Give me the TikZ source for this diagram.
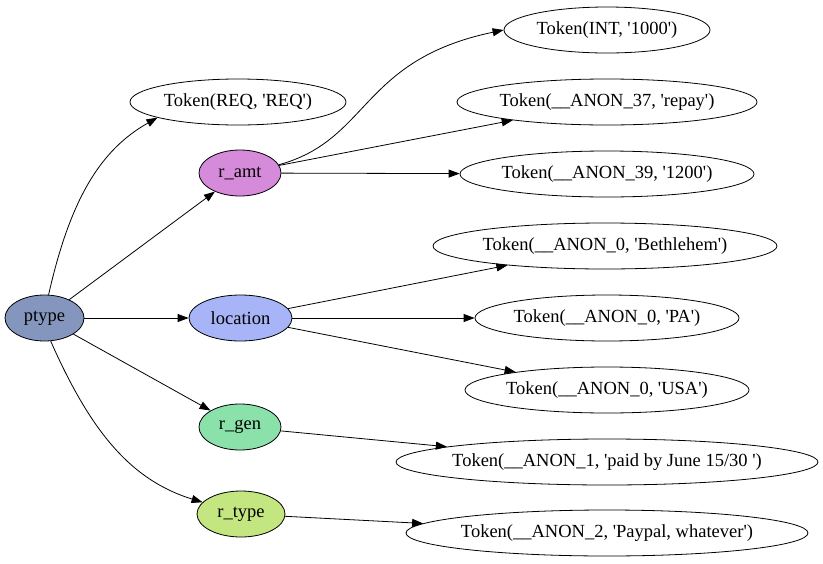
\documentclass[tikz,border=0pt]{standalone}
\usepackage{fontspec}
\setmainfont{Liberation Serif}
\usepackage{tikz}
\usetikzlibrary{arrows.meta,shapes.geometric}

\definecolor{ptypeC}{RGB}{133,150,190}
\definecolor{amtC}{RGB}{214,138,218}
\definecolor{locC}{RGB}{168,180,248}
\definecolor{genC}{RGB}{138,226,170}
\definecolor{typeC}{RGB}{196,230,128}
\newcommand{\tq}{\textquotesingle}

\begin{document}
\begin{tikzpicture}[
  x=1pt,y=-1pt,
  >={Triangle[length=11pt,width=8pt]},
  tok/.style={
    ellipse,
    draw=black,
    line width=0.8pt,
    inner xsep=-60pt,
    inner ysep=0pt,
    minimum height=46pt,
    font=\fontsize{18.5}{22}\selectfont
  },
  rule/.style={
    tok,
    fill=#1
  },
  link/.style={
    ->,
    line width=0.8pt
  }
]
\useasboundingbox (0,0) rectangle (823,563);

% nonterminals
\node[rule=ptypeC,minimum width=79pt] (ptype) at (44.5,318) {ptype};
\node[rule=amtC,minimum width=82pt] (ramt) at (240,173) {r\_amt};
\node[rule=locC,minimum width=103pt] (location) at (240.5,318) {location};
\node[rule=genC,minimum width=82pt] (rgen) at (240,427) {r\_gen};
\node[rule=typeC,minimum width=88pt] (rtype) at (241,514) {r\_type};

% tokens
\node[tok,minimum width=216pt] (req) at (238,102) {Token(REQ, \tq REQ\tq)};
\node[tok,minimum width=206pt] (int) at (607,30) {Token(INT, \tq 1000\tq)};
\node[tok,minimum width=300pt] (repay) at (607,102) {Token(\_\_ANON\_37, \tq repay\tq)};
\node[tok,minimum width=294pt] (amount) at (607,174) {Token(\_\_ANON\_39, \tq 1200\tq)};
\node[tok,minimum width=344pt] (city) at (605,246) {Token(\_\_ANON\_0, \tq Bethlehem\tq)};
\node[tok,minimum width=264pt] (state) at (607,318) {Token(\_\_ANON\_0, \tq PA\tq)};
\node[tok,minimum width=284pt] (country) at (607,390) {Token(\_\_ANON\_0, \tq USA\tq)};
\node[tok,minimum width=422pt] (paid) at (607,462) {Token(\_\_ANON\_1, \tq paid by June 15/30 \tq)};
\node[tok,minimum width=402pt] (paypal) at (607,533) {Token(\_\_ANON\_2, \tq Paypal, whatever\tq)};

\draw[link] (ptype.80) .. controls (70,200) and (100,150) .. (req.191);
\draw[link] (ptype) -- (ramt);
\draw[link] (ptype) -- (location);
\draw[link] (ptype) -- (rgen);
\draw[link] (ptype.-75) .. controls (90,430) and (130,480) .. (rtype.163);

\draw[link] (ramt.12) .. controls (370,140) and (360,60) .. (int.west);
\draw[link] (ramt) -- (repay);
\draw[link] (ramt) -- (amount);

\draw[link] (location) -- (city);
\draw[link] (location) -- (state);
\draw[link] (location) -- (country);

\draw[link] (rgen) -- (paid);
\draw[link] (rtype) -- (paypal);
\end{tikzpicture}
\end{document}
